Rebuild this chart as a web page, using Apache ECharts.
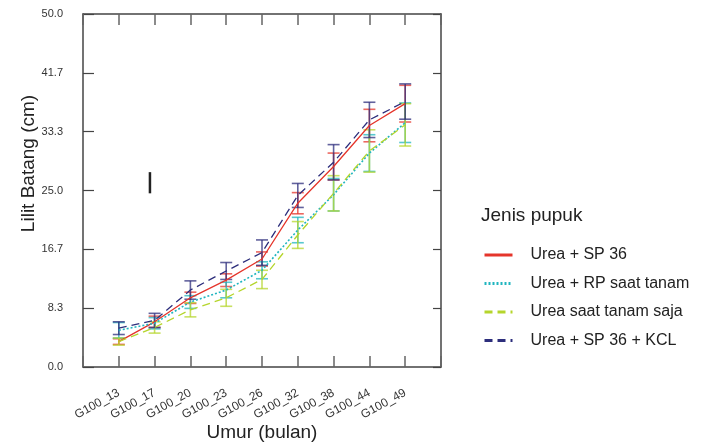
<!DOCTYPE html>
<html>
<head>
<meta charset="utf-8">
<script src="https://cdn.jsdelivr.net/npm/echarts@6/dist/echarts.min.js"></script>
<style>
html, body { margin: 0; padding: 0; background: #fff; }
#main { width: 701px; height: 445px; }
</style>
</head>
<body>
<div id="main"></div>
<script>
// kategori umur
var categories = ['G100_13', 'G100_17', 'G100_20', 'G100_23', 'G100_26', 'G100_32', 'G100_38', 'G100_44', 'G100_49'];
var yTicks = ['0.0', '8.3', '16.7', '25.0', '33.3', '41.7', '50.0'];
var seriesNames = ['Urea + SP 36', 'Urea + RP saat tanam', 'Urea saat tanam saja', 'Urea + SP 36 + KCL'];

// rata-rata lilit batang
var sp36 = [3.6, 6.4, 9.8, 12.3, 15.3, 23.2, 28.4, 34.2, 37.3];
var rpTanam = [5.2, 6.2, 9.2, 10.9, 13.7, 19.4, 24.4, 30.3, 34.6];
var tanamSaja = [3.6, 5.6, 8.1, 9.8, 12.4, 18.7, 24.6, 30.6, 34.3];
var sp36Kcl = [5.5, 6.6, 10.9, 13.6, 16.2, 24.3, 29.0, 35.0, 37.6];

// galat (error bar)
var errSp36 = [0.4, 0.8, 0.8, 0.9, 1.0, 1.5, 1.9, 2.3, 2.6];
var errRpTanam = [1.1, 0.8, 0.9, 1.1, 1.2, 1.8, 2.3, 2.6, 2.8];
var errTanamSaja = [0.5, 0.8, 1.0, 1.2, 1.3, 1.9, 2.5, 3.0, 3.0];
var errSp36Kcl = [0.9, 1.0, 1.3, 1.2, 1.8, 1.7, 2.5, 2.5, 2.5];

// tanda kecil hitam di kiri atas
var strayMark = [[1.87, 24.6, 27.6]];

var colors = ['#e5352b', '#20b5bf', '#b5d52c', '#2d2e7c'];
var font = 'Liberation Sans, Arial, sans-serif';

function toPoints(vals) {
	return vals.map(function (v, i) { return [i + 1, v]; });
}
function toBars(vals, errs) {
	return vals.map(function (v, i) { return [i + 1, v - errs[i], v + errs[i]]; });
}

function errorRender(capHalf, width) {
	return function (params, api) {
		var x = api.value(0);
		var lo = api.coord([x, api.value(1)]);
		var hi = api.coord([x, api.value(2)]);
		var style = api.style({ stroke: api.visual('color'), lineWidth: width, fill: null });
		var kids = [{ type: 'line', shape: { x1: lo[0], y1: lo[1], x2: hi[0], y2: hi[1] }, style: style }];
		if (capHalf > 0) {
			kids.push({ type: 'line', shape: { x1: lo[0] - capHalf, y1: lo[1], x2: lo[0] + capHalf, y2: lo[1] }, style: style });
			kids.push({ type: 'line', shape: { x1: hi[0] - capHalf, y1: hi[1], x2: hi[0] + capHalf, y2: hi[1] }, style: style });
		}
		return { type: 'group', children: kids };
	};
}

var lineTypes = ['solid', [2, 2], [8, 5], [8, 5]];
var means = [sp36, rpTanam, tanamSaja, sp36Kcl];
var errs = [errSp36, errRpTanam, errTanamSaja, errSp36Kcl];

var series = [];
for (var k = 0; k < 4; k++) {
	series.push({
		type: 'custom',
		renderItem: errorRender(6, 1.6),
		data: toBars(means[k], errs[k]),
		itemStyle: { color: colors[k], opacity: 0.75 },
		encode: { x: 0, y: [1, 2] },
		z: 2,
		silent: true
	});
}
for (var j = 0; j < 4; j++) {
	series.push({
		name: seriesNames[j],
		type: 'line',
		data: toPoints(means[j]),
		symbol: 'none',
		color: colors[j],
		lineStyle: { color: colors[j], width: j == 1 ? 1.6 : 1.3, type: lineTypes[j] },
		z: 3
	});
}
series.push({
	type: 'custom',
	renderItem: errorRender(0, 2.5),
	data: strayMark,
	itemStyle: { color: '#222' },
	encode: { x: 0, y: [1, 2] },
	silent: true
});

var axisLine = { show: true, onZero: false, lineStyle: { color: '#444', width: 1.5 } };

var myChart = echarts.init(document.getElementById('main'));
var option = {
	animation: false,
	textStyle: { fontFamily: font },
	title: {
		text: 'Jenis pupuk',
		left: 476,
		top: 201,
		textStyle: { fontFamily: font, fontSize: 19, fontWeight: 'normal', color: '#222' }
	},
	legend: {
		data: seriesNames,
		orient: 'vertical',
		left: 478,
		top: 242,
		itemWidth: 28,
		itemHeight: 14,
		itemGap: 12.5,
		itemStyle: { opacity: 0 },
		lineStyle: { width: 3 },
		textStyle: { fontFamily: font, fontSize: 16, color: '#222', padding: [0, 0, 0, 13] }
	},
	grid: { left: 83, right: 260, top: 14, bottom: 78, outerBoundsMode: 'none' },
	xAxis: [{
		type: 'value',
		min: 0,
		max: 10,
		interval: 1,
		name: 'Umur (bulan)',
		nameLocation: 'middle',
		nameGap: 56,
		nameMoveOverlap: false,
		nameTextStyle: { fontFamily: font, fontSize: 19, color: '#222' },
		axisLine: axisLine,
		axisTick: { inside: true, length: 11, lineStyle: { color: '#666', width: 1.5 } },
		splitLine: { show: false },
		axisLabel: {
			rotate: 29,
			fontSize: 12,
			color: '#333',
			margin: 25,
			formatter: function (v) { return categories[v - 1] || ''; }
		}
	}, {
		type: 'value',
		position: 'top',
		min: 0,
		max: 10,
		interval: 1,
		axisLine: axisLine,
		axisTick: { inside: true, length: 11, lineStyle: { color: '#666', width: 1.5 } },
		axisLabel: { show: false },
		splitLine: { show: false }
	}],
	yAxis: [{
		type: 'value',
		min: 0,
		max: 50,
		interval: 50 / 6,
		name: 'Lilit Batang (cm)',
		nameLocation: 'middle',
		nameGap: 45,
		nameMoveOverlap: false,
		nameTextStyle: { fontFamily: font, fontSize: 19, color: '#222', padding: [0, 0, 0, 54] },
		axisLine: axisLine,
		axisTick: { inside: true, length: 11, lineStyle: { color: '#444', width: 1.2 } },
		splitLine: { show: false },
		axisLabel: {
			fontSize: 11,
			color: '#333',
			margin: 20,
			formatter: function (v) { return yTicks[Math.round(v / (50 / 6))]; }
		}
	}, {
		type: 'value',
		position: 'right',
		min: 0,
		max: 50,
		interval: 50 / 6,
		axisLine: axisLine,
		axisTick: { inside: true, length: 8, lineStyle: { color: '#444', width: 1.2 } },
		axisLabel: { show: false },
		splitLine: { show: false }
	}],
	series: series
};
myChart.setOption(option);
</script>
</body>
</html>
